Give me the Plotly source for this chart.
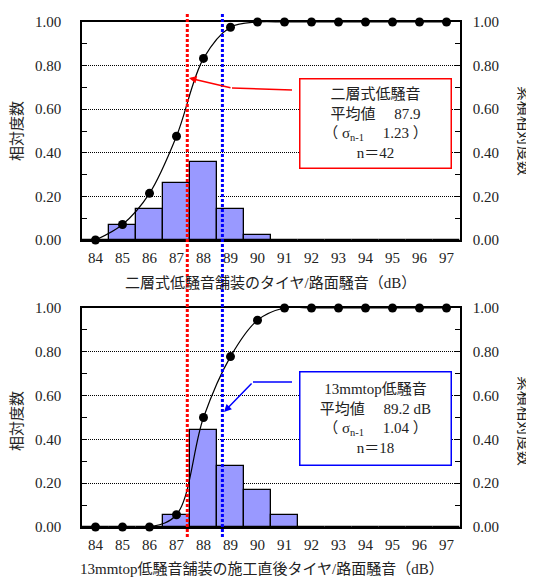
import plotly.graph_objects as go

W, H = 534, 577
OFF = 8  # page body margin offset

# ---- data ----
bins = [84, 85, 86, 87, 88, 89, 90, 91, 92, 93, 94, 95, 96, 97]
tick_labels = [str(b) for b in bins]

top_rel = [0, 0.071, 0.143, 0.262, 0.357, 0.143, 0.024, 0, 0, 0, 0, 0, 0, 0]
top_cum = [0, 0.071, 0.214, 0.476, 0.833, 0.976, 1.0, 1.0, 1.0, 1.0, 1.0, 1.0, 1.0, 1.0]
top_mean = 87.9
top_sigma = 1.23
top_n = 42
top_name = "二層式低騒音"

bot_rel = [0, 0, 0, 0.056, 0.444, 0.278, 0.167, 0.056, 0, 0, 0, 0, 0, 0]
bot_cum = [0, 0, 0, 0.056, 0.500, 0.778, 0.944, 1.0, 1.0, 1.0, 1.0, 1.0, 1.0, 1.0]
bot_mean = 89.2
bot_sigma = 1.04
bot_n = 18
bot_name = "13mmtop低騒音"

y_ticks = [0, 0.2, 0.4, 0.6, 0.8, 1.0]
y_tick_text = ["0.00", "0.20", "0.40", "0.60", "0.80", "1.00"]

top_xtitle = "二層式低騒音舗装のタイヤ/路面騒音（dB）"
bot_xtitle = "13mmtop低騒音舗装の施工直後タイヤ/路面騒音（dB）"
left_title = "相対度数"
right_title = "累積相対度数"

FONT = "Liberation Serif, Noto Sans CJK JP, serif"
TXT = "#222222"

def px(x):
    return (x - OFF) / W

def py(y):
    return 1 - (y - OFF) / H

fig = go.Figure()

# bars + cumulative lines
for rel, cum, xa, ya, ya2 in [(top_rel, top_cum, "x", "y", "y2"),
                              (bot_rel, bot_cum, "x2", "y3", "y4")]:
    fig.add_trace(go.Bar(x=bins, y=rel, xaxis=xa, yaxis=ya, width=1,
                         marker=dict(color="#9999FF", line=dict(color="black", width=1.3)),
                         showlegend=False))
    fig.add_trace(go.Scatter(x=bins, y=cum, xaxis=xa, yaxis=ya2, mode="lines+markers",
                             line=dict(color="black", width=1.2, shape="spline"),
                             marker=dict(color="black", size=9),
                             showlegend=False, cliponaxis=False))

xdom = [px(82), px(460)]
top_dom = [py(240), py(22)]
bot_dom = [py(527), py(308)]

def xaxis_cfg(anchor):
    return dict(domain=xdom, anchor=anchor, range=[83.5, 97.5], tickvals=bins,
                ticktext=tick_labels, showgrid=False, zeroline=False, ticks="",
                showline=True, linecolor="black", linewidth=1.5, mirror=True, automargin=False,
                tickfont=dict(family=FONT, size=15, color=TXT), ticklabelstandoff=3)

def yaxis_left(dom, anchor):
    return dict(domain=dom, anchor=anchor, range=[0, 1.0], tickvals=y_ticks,
                ticktext=y_tick_text, showgrid=True, gridcolor="black", gridwidth=1,
                griddash="1px,1px", zeroline=False, showline=True, linecolor="black",
                linewidth=1.5, ticks="inside", ticklen=5, tickcolor="black", automargin=False,
                minor=dict(dtick=0.1, ticks="inside", ticklen=5, tickcolor="black", showgrid=False),
                tickfont=dict(family=FONT, size=15, color=TXT), ticklabelstandoff=16)

def yaxis_right(dom, anchor, over):
    return dict(domain=dom, anchor=anchor, overlaying=over, side="right", range=[0, 1.0],
                tickvals=y_ticks, ticktext=y_tick_text, showgrid=False, zeroline=False,
                showline=True, linecolor="black", linewidth=1.5, ticks="inside", ticklen=5,
                tickcolor="black", automargin=False,
                minor=dict(dtick=0.1, ticks="inside", ticklen=5, tickcolor="black", showgrid=False),
                tickfont=dict(family=FONT, size=15, color=TXT), ticklabelstandoff=8)

fig.update_layout(
    width=W, height=H, margin=dict(l=0, r=0, t=0, b=0, autoexpand=False),
    paper_bgcolor="white", plot_bgcolor="white", bargap=0,
    font=dict(family=FONT, color=TXT),
    xaxis=xaxis_cfg("y"), yaxis=yaxis_left(top_dom, "x"), yaxis2=yaxis_right(top_dom, "x", "y"),
    xaxis2=xaxis_cfg("y3"), yaxis3=yaxis_left(bot_dom, "x2"), yaxis4=yaxis_right(bot_dom, "x2", "y3"),
)

# mean lines spanning both panels (bins are drawn at bin centres, value offset by half a bin)
for m, c in [(top_mean, "#FF0000"), (bot_mean, "#0000FF")]:
    fig.add_shape(type="line", xref="x", yref="paper", x0=m - 0.5, x1=m - 0.5,
                  y0=py(537), y1=py(14), line=dict(color=c, width=3, dash="3px,2px"), layer="above")

annots = []
C = dict(xref="paper", yref="paper", xanchor="center", yanchor="middle", showarrow=False)
# axis titles
for yc in [131, 421]:
    annots.append(dict(text=left_title, x=px(17), y=py(yc), textangle=-90,
                       font=dict(size=15, color=TXT, family=FONT), **C))
    annots.append(dict(text=right_title, x=px(524), y=py(yc), textangle=90,
                       font=dict(size=15, color=TXT, family=FONT), **C))
annots.append(dict(text=top_xtitle, x=px(270), y=py(283),
                   font=dict(size=15, color=TXT, family=FONT), **C))
annots.append(dict(text=bot_xtitle, x=px(262), y=py(569),
                   font=dict(size=15, color=TXT, family=FONT), **C))

# info boxes
top_text = (f"{top_name}<br>平均値　 {top_mean}<br>（ σ<sub>n-1</sub>　 {top_sigma} ）<br>n＝{top_n}")
bot_text = (f"{bot_name}<br>平均値　 {bot_mean} dB<br>（ σ<sub>n-1</sub>　 {bot_sigma} ）<br>n＝{bot_n}")
annots.append(dict(text=top_text, x=px(375.5), y=py(123.5),
                   bordercolor="#FF0000", borderwidth=1.5, borderpad=0,
                   bgcolor="white", width=150, height=88, align="center",
                   font=dict(size=15, color=TXT, family=FONT), **C))
annots.append(dict(text=bot_text, x=px(375.5), y=py(418.5),
                   bordercolor="#0000FF", borderwidth=1.5, borderpad=0,
                   bgcolor="white", width=150, height=92, align="center",
                   font=dict(size=15, color=TXT, family=FONT), **C))

# elbow arrows
annots.append(dict(text="", x=px(189), y=py(78), xref="paper", yref="paper", showarrow=True,
                   ax=43, ay=10, arrowcolor="#FF0000", arrowwidth=1.5, arrowhead=2, arrowsize=1))
fig.add_shape(type="line", xref="paper", yref="paper", x0=px(232), y0=py(88), x1=px(292), y1=py(90),
              line=dict(color="#FF0000", width=1.5))
annots.append(dict(text="", x=px(224), y=py(412), xref="paper", yref="paper", showarrow=True,
                   ax=29, ay=-30, arrowcolor="#0000FF", arrowwidth=1.5, arrowhead=2, arrowsize=1))
fig.add_shape(type="line", xref="paper", yref="paper", x0=px(253), y0=py(382), x1=px(292), y1=py(382),
              line=dict(color="#0000FF", width=1.5))

fig.update_layout(annotations=annots)
fig.write_html("out.html")
